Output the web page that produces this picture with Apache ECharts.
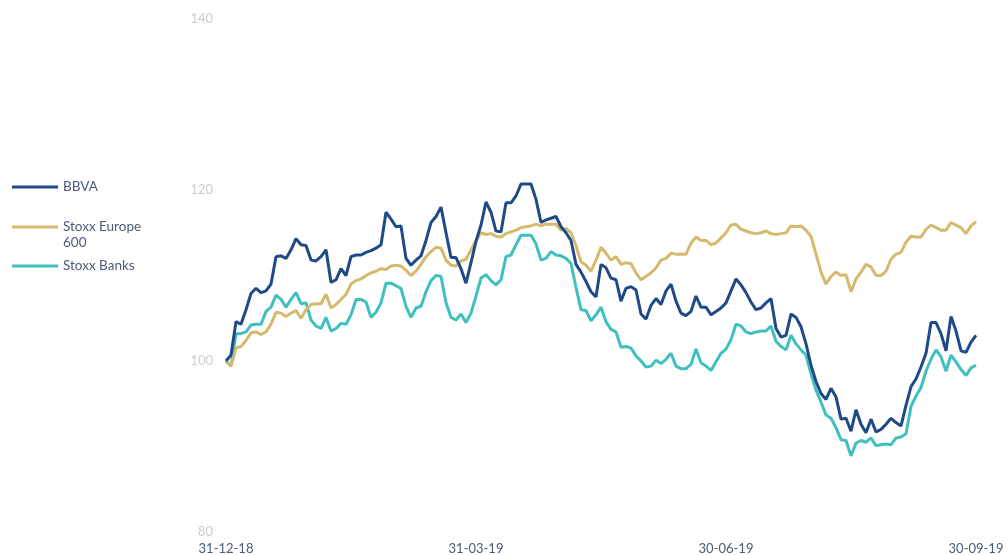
<!DOCTYPE html>
<html>
<head>
<meta charset="utf-8">
<script src="https://cdn.jsdelivr.net/npm/echarts@6/dist/echarts.min.js"></script>
<style>html,body{margin:0;padding:0;background:#fff;}#c{width:1008px;height:555px;}</style>
</head>
<body>
<div id="c"></div>
<script>
// Tick labels for the x axis (placed every 50 samples)
const tickLabels = ['31-12-18', '31-03-19', '30-06-19', '30-09-19'];
const seriesNames = ['BBVA', 'Stoxx Europe 600', 'Stoxx Banks'];

const bbva = [100.0,100.7,104.6,104.3,106.0,107.9,108.5,108.0,108.2,109.0,
112.2,112.3,112.0,113.0,114.3,113.6,113.5,111.8,111.7,112.2,
113.0,109.2,109.5,110.8,110.0,112.2,112.4,112.4,112.7,112.9,
113.2,113.6,117.4,116.6,115.7,115.8,112.0,111.2,111.8,112.3,
114.1,116.2,116.9,118.0,115.0,112.1,112.1,110.8,109.1,111.5,
114.0,115.9,118.6,117.4,115.2,115.1,118.5,118.5,119.3,120.7,
120.7,120.7,118.9,116.2,116.5,116.7,116.9,115.7,115.0,114.1,
111.3,110.4,109.3,108.1,107.5,111.3,110.9,109.7,109.5,107.0,
108.5,108.7,108.3,105.5,104.9,106.5,107.3,106.6,108.2,109.0,
107.0,105.6,105.3,105.8,107.6,106.3,106.3,105.4,105.8,106.2,
106.8,108.2,109.6,108.9,108.0,106.9,106.0,106.2,106.8,107.3,
103.8,102.8,103.0,105.5,105.1,104.0,102.0,99.5,97.6,96.2,
95.5,96.8,95.8,93.2,93.3,91.8,94.3,92.6,91.6,93.2,
91.7,92.0,92.6,93.3,92.8,92.4,94.8,97.0,97.9,99.3,
100.9,104.5,104.5,103.2,101.2,105.2,103.5,101.2,101.0,102.2,
103.0];

const stoxx600 = [100.0,99.4,101.5,101.7,102.4,103.3,103.4,103.1,103.4,104.3,
105.7,105.6,105.2,105.6,105.9,105.0,106.0,106.6,106.7,106.7,
107.8,106.2,106.6,107.2,107.8,109.0,109.4,109.6,110.0,110.3,
110.5,110.8,110.7,111.1,111.2,111.1,110.6,110.0,110.5,111.3,
112.2,112.8,113.3,113.2,111.8,111.2,111.1,111.7,111.9,113.0,
114.1,115.0,114.8,114.9,114.6,114.5,114.9,115.1,115.3,115.6,
115.7,115.8,116.0,115.8,116.0,116.0,116.0,115.3,115.5,115.0,
113.5,111.6,111.2,110.5,111.8,113.3,112.6,111.8,112.2,111.3,
111.5,111.4,110.3,109.5,109.9,110.3,110.9,111.8,112.0,112.6,
112.5,112.5,112.5,113.8,114.5,114.1,114.1,113.6,113.8,114.4,
115.0,115.9,116.0,115.4,115.2,115.0,114.9,115.0,115.2,114.9,
114.8,114.9,115.0,115.8,115.7,115.8,115.3,114.6,112.5,110.4,
109.0,109.9,110.4,110.0,110.1,108.1,109.6,110.4,111.3,111.0,
110.0,110.0,110.5,111.9,112.5,112.7,113.9,114.6,114.5,114.5,
115.4,115.9,115.6,115.3,115.3,116.2,115.9,115.6,114.9,115.8,
116.3];

const stoxxBanks = [100.0,99.4,103.2,103.2,103.4,104.2,104.3,104.3,105.8,106.3,
107.7,107.2,106.3,107.2,108.0,106.7,106.8,104.8,104.1,103.8,
105.1,103.5,103.8,104.4,104.3,105.4,107.2,107.2,106.9,105.1,
105.7,106.8,109.1,109.1,108.8,108.5,106.4,105.1,106.2,106.4,
108.1,109.4,110.0,109.9,106.8,105.1,104.8,105.5,104.5,105.6,
107.6,109.7,110.1,109.4,108.9,109.5,112.2,112.4,113.6,114.7,
114.7,114.7,113.7,111.8,112.0,112.8,112.4,112.3,112.0,111.4,
108.6,106.0,105.9,104.7,105.4,106.3,104.6,103.7,103.4,101.6,
101.7,101.5,100.6,100.0,99.3,99.4,100.1,99.7,100.2,100.9,
99.4,99.1,99.1,99.6,101.4,99.8,99.4,98.9,99.9,100.9,
101.4,102.5,104.3,104.1,103.4,103.2,103.4,103.5,103.5,104.1,
102.3,101.7,101.3,103.0,102.0,101.3,100.7,98.5,96.6,95.2,
93.7,93.3,92.2,90.8,90.7,88.9,90.4,90.7,90.5,91.0,
90.1,90.2,90.3,90.2,91.0,91.1,91.5,94.7,95.9,96.9,
98.8,100.2,101.3,100.5,98.8,100.7,99.9,99.0,98.3,99.2,
99.5];

const step = 50;
const categories = bbva.map((_, i) => (i % step === 0 ? tickLabels[i / step] : ''));

const colors = ['#1e4b87', '#d5b96c', '#3fc0bf'];
const font = 'Lato, "Open Sans", sans-serif';

function legendFor(name, top) {
  return {
    left: 12, top: top, orient: 'vertical', padding: 0,
    data: [name], icon: 'rect', itemWidth: 46, itemHeight: 3, itemGap: 0,
    selectedMode: false,
    // the blank first line keeps the icon level with "Stoxx Europe"
    formatter: n => n === 'Stoxx Europe 600' ? ' \nStoxx Europe\n600' : n,
    textStyle: { color: '#4b5a78', fontSize: 13.5, fontFamily: font, lineHeight: 16 }
  };
}

const chart = echarts.init(document.getElementById('c'));
chart.setOption({
  animation: false,
  backgroundColor: '#fff',
  color: colors,
  legend: [
    legendFor(seriesNames[0], 179),
    legendFor(seriesNames[1], 203),
    legendFor(seriesNames[2], 258)
  ],
  grid: { left: 226, right: 32, top: 19, bottom: 23, containLabel: false },
  xAxis: {
    type: 'category', data: categories, boundaryGap: false,
    axisLine: { show: false }, axisTick: { show: false }, splitLine: { show: false },
    axisLabel: { interval: step - 1, color: '#4b5a78', fontSize: 13, fontFamily: font, margin: 10 }
  },
  yAxis: {
    type: 'value', min: 80, max: 140, interval: 20,
    axisLine: { show: false }, axisTick: { show: false }, splitLine: { show: false },
    axisLabel: { color: '#cccccc', fontSize: 13, fontFamily: font, margin: 13 }
  },
  series: [
    { name: seriesNames[0], type: 'line', data: bbva, showSymbol: false, lineStyle: { width: 3, color: colors[0] }, itemStyle: { color: colors[0] }, z: 3 },
    { name: seriesNames[1], type: 'line', data: stoxx600, showSymbol: false, lineStyle: { width: 3, color: colors[1] }, itemStyle: { color: colors[1] }, z: 2 },
    { name: seriesNames[2], type: 'line', data: stoxxBanks, showSymbol: false, lineStyle: { width: 3, color: colors[2] }, itemStyle: { color: colors[2] }, z: 1 }
  ]
});
</script>
</body>
</html>
